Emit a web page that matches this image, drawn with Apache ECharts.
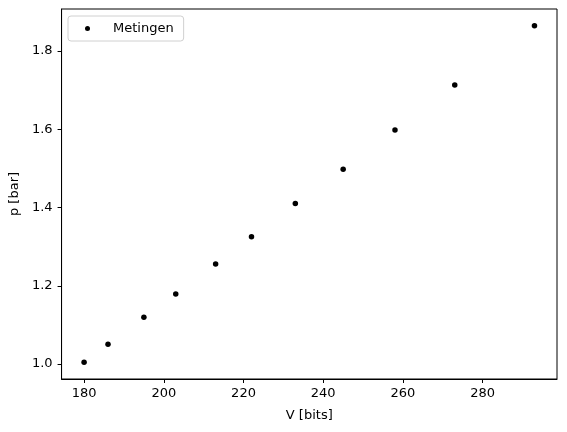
<!DOCTYPE html>
<html>
<head>
<meta charset="utf-8">
<script src="https://cdn.jsdelivr.net/npm/echarts@6/dist/echarts.min.js"></script>
<style>
  html, body { margin: 0; padding: 0; background: #fff; }
  #main { width: 567px; height: 432px; }
</style>
</head>
<body>
<div id="main"></div>
<script>
// meetwaarden
var volume = [180, 186, 195, 203, 213, 222, 233, 245, 258, 273, 293];
var pressure = [1.005, 1.051, 1.12, 1.179, 1.256, 1.325, 1.41, 1.498, 1.598, 1.713, 1.864];

// tick labels
var xTicks = [180, 200, 220, 240, 260, 280];
var yTicks = [1.0, 1.2, 1.4, 1.6, 1.8];

var points = [];
for (var i = 0; i < volume.length; i++) {
    points.push([volume[i], pressure[i]]);
}

var font = 'DejaVu Sans';
var fs = 13;

var option = {
    animation: false,
    backgroundColor: '#ffffff',
    textStyle: { fontFamily: font, color: '#000' },
    grid: {
        left: 61, right: 10, top: 9, bottom: 53,
        show: true, borderColor: '#000', borderWidth: 1
    },
    legend: {
        left: 68, top: 16,
        padding: [6, 10, 6, 17],
        itemWidth: 5, itemHeight: 5,
        icon: 'circle',
        borderColor: '#d0d0d0', borderWidth: 1, borderRadius: 3,
        backgroundColor: 'rgba(255,255,255,0.8)',
        textStyle: { fontFamily: font, fontSize: fs, color: '#000', padding: [0, 0, 0, 18] },
        data: ['Metingen']
    },
    xAxis: {
        type: 'value',
        min: 174.35, max: 298.65,
        name: 'V [bits]', nameLocation: 'middle', nameGap: 30,
        nameTextStyle: { fontFamily: font, fontSize: fs, color: '#000' },
        axisLine: { show: true, lineStyle: { color: '#000', width: 1 } },
        axisTick: { show: true, length: 4, customValues: xTicks, lineStyle: { color: '#000' } },
        axisLabel: { margin: 8, fontSize: fs, color: '#000', fontFamily: font, customValues: xTicks },
        splitLine: { show: false }
    },
    yAxis: {
        type: 'value',
        min: 0.962, max: 1.907,
        name: 'p [bar]', nameLocation: 'middle', nameGap: 38,
        nameTextStyle: { fontFamily: font, fontSize: fs, color: '#000' },
        axisLine: { show: true, lineStyle: { color: '#000', width: 1 } },
        axisTick: { show: true, length: 4, customValues: yTicks, lineStyle: { color: '#000' } },
        axisLabel: {
            margin: 9, fontSize: fs, color: '#000', fontFamily: font, customValues: yTicks,
            formatter: function (v) { return v.toFixed(1); }
        },
        splitLine: { show: false }
    },
    series: [
        {
            name: 'Metingen',
            type: 'scatter',
            symbol: 'circle',
            symbolSize: 5.5,
            itemStyle: { color: '#000', opacity: 1 },
            data: points
        }
    ]
};

var chart = echarts.init(document.getElementById('main'));
chart.setOption(option);
</script>
</body>
</html>
